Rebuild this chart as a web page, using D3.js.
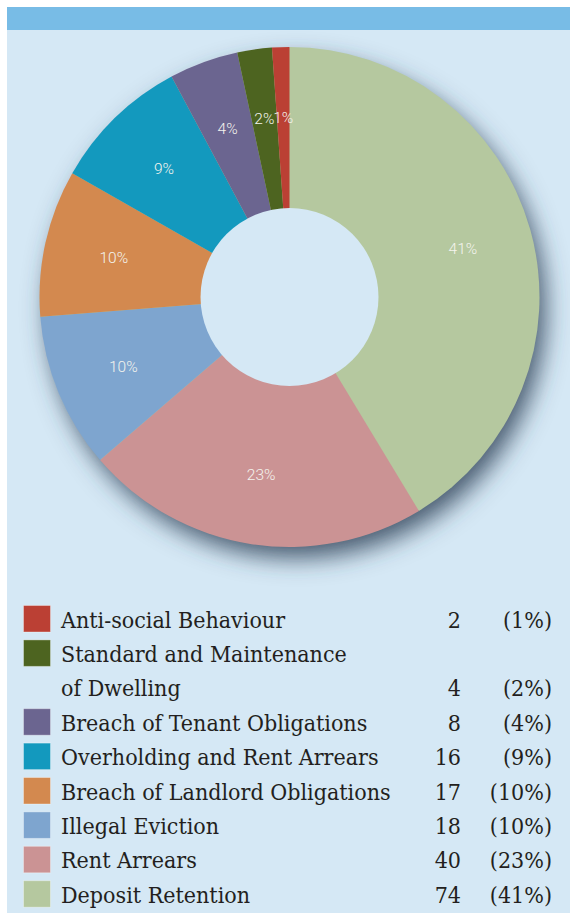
<!DOCTYPE html>
<html><head><meta charset="utf-8">
<script src="https://cdn.jsdelivr.net/npm/d3@7"></script>
<style>html,body{margin:0;padding:0;background:#fff;}svg{display:block;}</style>
</head><body>
<script>
const categories = ["Deposit Retention","Rent Arrears","Illegal Eviction","Breach of Landlord Obligations","Overholding and Rent Arrears","Breach of Tenant Obligations","Standard and Maintenance of Dwelling","Anti-social Behaviour"];
const values = [74, 40, 18, 17, 16, 8, 4, 2];
const percentLabels = ["41%","23%","10%","10%","9%","4%","2%","1%"];
const colors = ["#b5c89f","#cb9394","#7ea5cf","#d3894f","#1399be","#6b6590","#4d6420","#bb4034"];
// legend order (top to bottom) as in the reference
const legendOrder = [7,6,5,4,3,2,1,0];
const legendLines = {6:["Standard and Maintenance","of Dwelling"]};

const W = 570, H = 915;
const svg = d3.select("body").append("svg").attr("width", W).attr("height", H);
const defs = svg.append("defs");
const f = defs.append("filter").attr("id","sh").attr("x","-30%").attr("y","-30%").attr("width","160%").attr("height","160%");
f.append("feGaussianBlur").attr("in","SourceAlpha").attr("stdDeviation",12).attr("result","b");
f.append("feOffset").attr("in","b").attr("dx",7).attr("dy",12).attr("result","o");
f.append("feFlood").attr("flood-color","#2f4258").attr("flood-opacity",0.85);
f.append("feComposite").attr("in2","o").attr("operator","in").attr("result","s");
const m = f.append("feMerge"); m.append("feMergeNode").attr("in","s"); m.append("feMergeNode").attr("in","SourceGraphic");

// panel
svg.append("rect").attr("x",7).attr("y",7).attr("width",W-7).attr("height",906).attr("fill","#d5e8f5");
svg.append("rect").attr("x",7).attr("y",7).attr("width",W-7).attr("height",23).attr("fill","#78bce6");

const cx = 289.5, cy = 297, R = 250, r0 = 89;
const g = svg.append("g").attr("transform",`translate(${cx},${cy})`);
const pie = d3.pie().sort(null).value(d => d)(values);
const arc = d3.arc().innerRadius(0).outerRadius(R);
const labelArc = d3.arc().innerRadius(180).outerRadius(180);

g.append("circle").attr("r",R-1).attr("fill","#b5c89f").attr("filter","url(#sh)");
g.selectAll("path.s").data(pie).join("path").attr("class","s")
  .attr("d",arc).attr("fill",(d,i)=>colors[i]);
g.append("circle").attr("r",r0).attr("fill","#d5e8f5");
g.selectAll("text.l").data(pie).join("text").attr("class","l")
  .attr("transform",d=>`translate(${labelArc.centroid(d)})`)
  .attr("text-anchor","middle").attr("dy","0.36em")
  .attr("font-family","Roboto, 'Liberation Sans', sans-serif").attr("font-weight",300)
  .attr("font-size",15.5).attr("fill","#f4f4ee")
  .text((d,i)=>percentLabels[i]);

// legend
const lg = svg.append("g");
const step = 34.4; let line = 0;
const font = "'DejaVu Serif Condensed','DejaVu Serif',serif";
const fs = 23, ink = "#231f20";
legendOrder.forEach(i => {
  const y0 = 605.5 + line*step;
  lg.append("rect").attr("x",23.5).attr("y",y0).attr("width",27).attr("height",26.5)
    .attr("fill",colors[i]).attr("stroke","#ffffff").attr("stroke-opacity",0.35).attr("stroke-width",1);
  const lines = legendLines[i] || [categories[i]];
  lines.forEach((t,k)=>{
    lg.append("text").attr("x",61).attr("y",y0+22+k*step).attr("font-family",font)
      .attr("font-size",fs).attr("fill",ink).text(t);
  });
  const yl = y0 + 22 + (lines.length-1)*step;
  lg.append("text").attr("x",461).attr("y",yl).attr("text-anchor","end").attr("font-family",font)
    .attr("font-size",fs).attr("fill",ink).text(values[i]);
  lg.append("text").attr("x",552).attr("y",yl).attr("text-anchor","end").attr("font-family",font)
    .attr("font-size",fs).attr("fill",ink).text("("+percentLabels[i]+")");
  line += lines.length;
});
</script>
</body></html>
